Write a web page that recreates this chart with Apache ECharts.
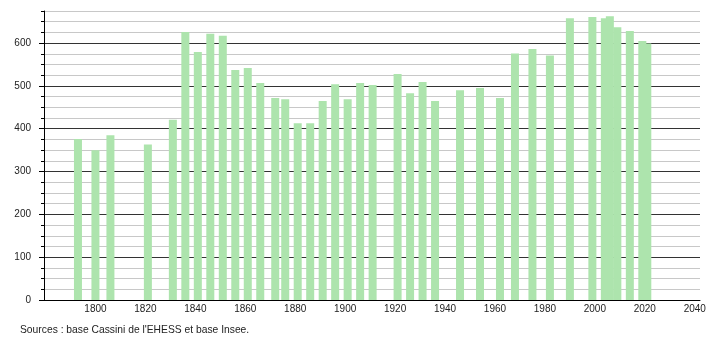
<!DOCTYPE html>
<html>
<head>
<meta charset="utf-8">
<script src="https://cdn.jsdelivr.net/npm/echarts@6/dist/echarts.min.js"></script>
<style>
html,body{margin:0;padding:0;background:#fff;}
#c{width:710px;height:340px;}
</style>
</head>
<body>
<div id="c"></div>
<script>
const years = [1793,1800,1806,1821,1831,1836,1841,1846,1851,1856,1861,1866,1872,1876,1881,1886,1891,1896,1901,1906,1911,1921,1926,1931,1936,1946,1954,1962,1968,1975,1982,1990,1999,2004,2006,2009,2014,2019,2021];
const population = [376,350,385,363,421,626,579,622,617,537,542,507,472,469,413,413,465,504,469,507,502,528,483,509,465,490,495,472,576,586,571,658,661,658,663,637,628,605,599];
const xTickLabels = [1800,1820,1840,1860,1880,1900,1920,1940,1960,1980,2000,2020,2040];
const yTickLabels = [0,100,200,300,400,500,600];
const sourceText = "Sources : base Cassini de l'EHESS et base Insee.";

const font = 'Liberation Sans, Arial, Helvetica, sans-serif';
const yMax = 675;
const xMin = 1779.4, xMax = 2042.1;
const gTop = 11, gBottom = 40, plotH = 340 - gTop - gBottom;
const top600 = gTop + plotH * (yMax - 600) / yMax;

const chart = echarts.init(document.getElementById('c'), null, {renderer: 'canvas'});
chart.setOption({
  animation: false,
  backgroundColor: '#fff',
  grid: [
    {left: 44, right: 10, top: gTop, bottom: gBottom},
    {left: 44, right: 10, top: top600, bottom: gBottom}
  ],
  title: {
    text: sourceText,
    left: 20, top: 325, padding: 0,
    textStyle: {fontFamily: font, fontSize: 10.3, fontWeight: 'normal', color: '#222'}
  },
  xAxis: [{
    type: 'value', gridIndex: 0, min: xMin, max: xMax,
    splitNumber: 13, minInterval: 20, maxInterval: 20,
    axisLine: {show: true, onZero: false, lineStyle: {color: '#000', width: 1}},
    axisTick: {show: false},
    splitLine: {show: false},
    axisLabel: {
      show: true, margin: 4, color: '#222', fontFamily: font, fontSize: 10,
      formatter: v => xTickLabels.indexOf(v) >= 0 ? String(v) : ''
    }
  }, {
    type: 'value', gridIndex: 1, min: xMin, max: xMax, show: false
  }],
  yAxis: [{
    type: 'value', gridIndex: 0, min: 0, max: yMax, interval: 25,
    axisLine: {show: true, lineStyle: {color: '#000', width: 1}},
    axisTick: {show: true, length: 3, lineStyle: {color: '#000'}},
    splitLine: {show: true, lineStyle: {color: ['#333','#c8c8c8','#c8c8c8','#c8c8c8'], width: 1}},
    axisLabel: {
      margin: 13, color: '#222', fontFamily: font, fontSize: 10,
      formatter: v => yTickLabels.indexOf(v) >= 0 ? String(v) : ''
    }
  }, {
    type: 'value', gridIndex: 1, min: 0, max: 600, interval: 100,
    axisLine: {show: false},
    axisTick: {show: true, length: 5, lineStyle: {color: '#000'}},
    splitLine: {show: false},
    axisLabel: {show: false}
  }],
  series: [{
    type: 'bar', xAxisIndex: 0, yAxisIndex: 0,
    data: years.map((y, i) => [y, population[i]]),
    barWidth: 8,
    itemStyle: {color: '#ade4ad'},
    z: 3
  }]
});
</script>
</body>
</html>
